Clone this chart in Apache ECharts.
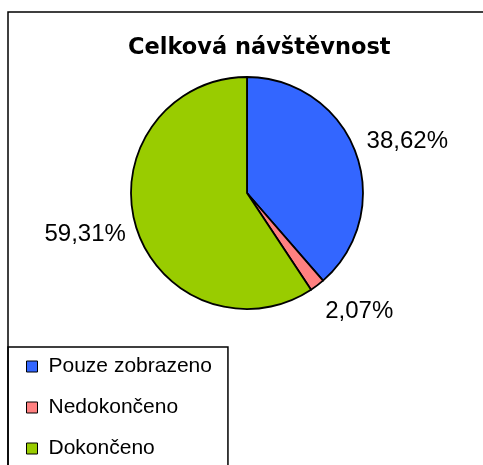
<!DOCTYPE html>
<html>
<head>
<meta charset="utf-8">
<style>
  html, body { margin: 0; padding: 0; background: #fff; }
  #chart { width: 483px; height: 465px; }
</style>
<script src="https://cdn.jsdelivr.net/npm/echarts@6/dist/echarts.min.js"></script>
</head>
<body>
<div id="chart"></div>
<script>
// data
const categories = ["Pouze zobrazeno", "Nedokončeno", "Dokončeno"];
const shares = [38.62, 2.07, 59.31];
const colors = ["#3366FF", "#FF8080", "#99CC00"];
// small nudges so labels sit where excel put them
const labelNudge = [[2, 8], [10, -16], [0, -7]];

const pieData = categories.map((name, i) => ({
  name: name,
  value: shares[i],
  itemStyle: { color: colors[i] }
}));

// czech decimal comma
const fmt = p => p.value.toFixed(2).replace(".", ",") + "%";

const chart = echarts.init(document.getElementById("chart"));
chart.setOption({
  backgroundColor: "#fff",
  animation: false,
  title: {
    text: "Celková návštěvnost",
    left: 123,
    top: 32,
    textStyle: {
      fontFamily: "DejaVu Sans",
      fontWeight: "bold",
      fontSize: 22.5,
      color: "#000"
    }
  },
  legend: {
    orient: "vertical",
    left: 8,
    top: 347,
    height: 160,
    padding: [9, 16, 30, 18],
    itemGap: 20,
    itemWidth: 11,
    itemHeight: 11,
    icon: "rect",
    borderColor: "#000",
    borderWidth: 1.5,
    itemStyle: { borderColor: "#000", borderWidth: 1 },
    formatter: name => "{t|" + name + "}",
    textStyle: {
      fontFamily: "Liberation Sans",
      fontSize: 21,
      color: "#000",
      rich: { t: { fontFamily: "Liberation Sans", fontSize: 21, color: "#000", padding: [0, 0, 0, 6] } }
    },
    data: categories
  },
  graphic: [{
    type: "rect",
    shape: { x: 8, y: 12, width: 700, height: 700 },
    style: { fill: null, stroke: "#000", lineWidth: 1.5 },
    silent: true,
    z: 10
  }],
  series: [
    {
      type: "pie",
      center: [247, 193],
      radius: [0, 116],
      startAngle: 90,
      clockwise: true,
      label: { show: false },
      labelLine: { show: false },
      itemStyle: { borderColor: "#000", borderWidth: 1.8 },
      emphasis: { disabled: true },
      data: pieData
    },
    {
      // invisible ring only used to place the percentage labels
      type: "pie",
      center: [247, 193],
      radius: [0, 332],
      startAngle: 90,
      clockwise: true,
      silent: true,
      legendHoverLink: false,
      itemStyle: { color: "rgba(0,0,0,0)" },
      label: {
        show: true,
        position: "inside",
        formatter: fmt,
        fontFamily: "Liberation Sans",
        fontSize: 24,
        color: "#000"
      },
      labelLine: { show: false },
      emphasis: { disabled: true },
      data: categories.map((name, i) => ({
        name: name,
        value: shares[i],
        label: { offset: labelNudge[i] }
      })),
      z: 1
    }
  ]
});
</script>
</body>
</html>
